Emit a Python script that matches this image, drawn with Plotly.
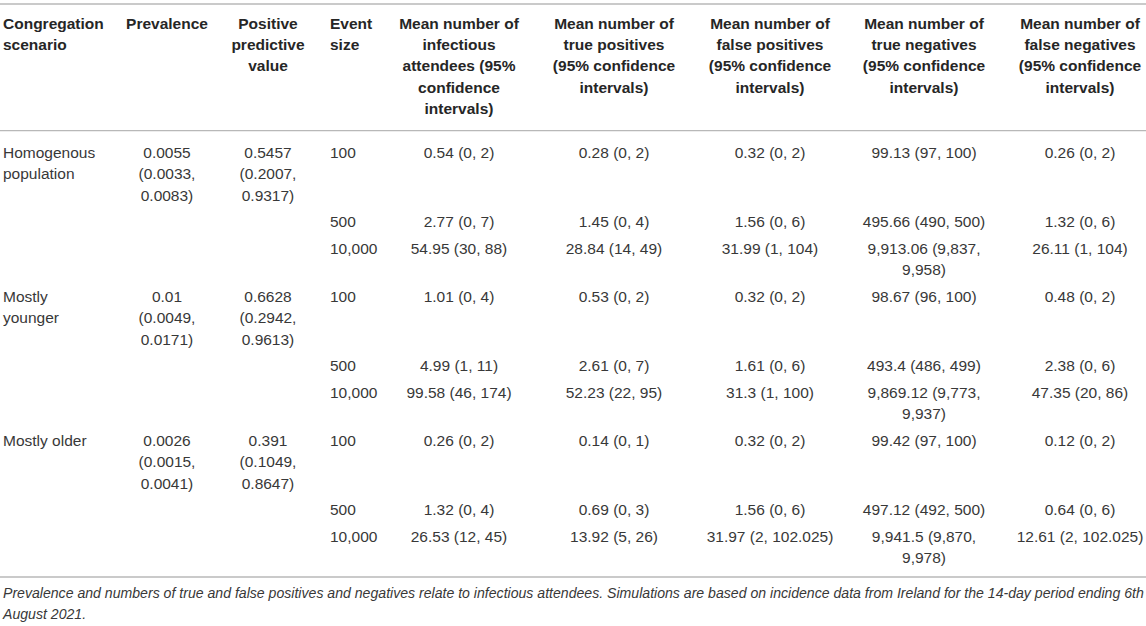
"""Table of simulated test outcomes per congregation scenario, drawn with Plotly text traces."""

import plotly.graph_objects as go

# --- table content ---------------------------------------------------------

header_lines = [
    ["Congregation", "scenario"],
    ["Prevalence"],
    ["Positive", "predictive", "value"],
    ["Event", "size"],
    ["Mean number of", "infectious", "attendees (95%", "confidence", "intervals)"],
    ["Mean number of", "true positives", "(95% confidence", "intervals)"],
    ["Mean number of", "false positives", "(95% confidence", "intervals)"],
    ["Mean number of", "true negatives", "(95% confidence", "intervals)"],
    ["Mean number of", "false negatives", "(95% confidence", "intervals)"],
]

scenarios = ["Homogenous\npopulation", "Mostly\nyounger", "Mostly older"]
prevalence = [
    "0.0055\n(0.0033,\n0.0083)",
    "0.01\n(0.0049,\n0.0171)",
    "0.0026\n(0.0015,\n0.0041)",
]
ppv = [
    "0.5457\n(0.2007,\n0.9317)",
    "0.6628\n(0.2942,\n0.9613)",
    "0.391\n(0.1049,\n0.8647)",
]
event_sizes = ["100", "500", "10,000"]

infectious = [
    "0.54 (0, 2)", "2.77 (0, 7)", "54.95 (30, 88)",
    "1.01 (0, 4)", "4.99 (1, 11)", "99.58 (46, 174)",
    "0.26 (0, 2)", "1.32 (0, 4)", "26.53 (12, 45)",
]
true_pos = [
    "0.28 (0, 2)", "1.45 (0, 4)", "28.84 (14, 49)",
    "0.53 (0, 2)", "2.61 (0, 7)", "52.23 (22, 95)",
    "0.14 (0, 1)", "0.69 (0, 3)", "13.92 (5, 26)",
]
false_pos = [
    "0.32 (0, 2)", "1.56 (0, 6)", "31.99 (1, 104)",
    "0.32 (0, 2)", "1.61 (0, 6)", "31.3 (1, 100)",
    "0.32 (0, 2)", "1.56 (0, 6)", "31.97 (2, 102.025)",
]
true_neg = [
    "99.13 (97, 100)", "495.66 (490, 500)", "9,913.06 (9,837,\n9,958)",
    "98.67 (96, 100)", "493.4 (486, 499)", "9,869.12 (9,773,\n9,937)",
    "99.42 (97, 100)", "497.12 (492, 500)", "9,941.5 (9,870,\n9,978)",
]
false_neg = [
    "0.26 (0, 2)", "1.32 (0, 6)", "26.11 (1, 104)",
    "0.48 (0, 2)", "2.38 (0, 6)", "47.35 (20, 86)",
    "0.12 (0, 2)", "0.64 (0, 6)", "12.61 (2, 102.025)",
]

caption_lines = [
    "Prevalence and numbers of true and false positives and negatives relate to "
    "infectious attendees. Simulations are based on incidence data from Ireland "
    "for the 14-day period ending 6th",
    "August 2021.",
]

# --- layout constants ------------------------------------------------------

FONT = "Liberation Sans, Arial, Helvetica, sans-serif"
FONT_SIZE = 15.5
CAPTION_SIZE = 14.1
TEXT_COLOR = "#383838"
RULE_COLOR = "#b8b8b8"

COL_X = [3, 167, 268, 330, 459, 614, 770, 924, 1080]
COL_POS = ["middle right", "middle center", "middle center", "middle right"] + [
    "middle center"
] * 5

HEADER_TOP = 25
HEADER_LINE = 21.3
BODY_TOP = 154
BODY_LINE = 21.5
ROW_PAD = 2.5
RULES = [4, 130.7, 577]
CAPTION_TOP = 594
CAPTION_LINE = 21

WIN_W, WIN_H = 1146, 626

# --- build text points -----------------------------------------------------

hx, hy, htext, hpos = [], [], [], []
for col, lines in enumerate(header_lines):
    for k, line in enumerate(lines):
        hx.append(COL_X[col])
        hy.append(HEADER_TOP + k * HEADER_LINE)
        htext.append(f"<b>{line}</b>")
        hpos.append(COL_POS[col])

bx, by, btext, bpos = [], [], [], []
y = BODY_TOP
for i in range(len(infectious)):
    g, r = divmod(i, 3)
    cells = [
        scenarios[g] if r == 0 else "",
        prevalence[g] if r == 0 else "",
        ppv[g] if r == 0 else "",
        event_sizes[r],
        infectious[i],
        true_pos[i],
        false_pos[i],
        true_neg[i],
        false_neg[i],
    ]
    n_lines = 1
    for col, cell in enumerate(cells):
        if not cell:
            continue
        parts = cell.split("\n")
        n_lines = max(n_lines, len(parts))
        for k, part in enumerate(parts):
            bx.append(COL_X[col])
            by.append(y + k * BODY_LINE)
            btext.append(part)
            bpos.append(COL_POS[col])
    y += n_lines * BODY_LINE + 2 * ROW_PAD

cx = [COL_X[0]] * len(caption_lines)
cy = [CAPTION_TOP + k * CAPTION_LINE for k in range(len(caption_lines))]
ctext = [f"<i>{line}</i>" for line in caption_lines]

fig = go.Figure()

fig.add_trace(
    go.Scatter(
        x=hx, y=hy, text=htext, mode="text", textposition=hpos,
        textfont=dict(family=FONT, size=FONT_SIZE, color="#262626"),
        hoverinfo="skip", showlegend=False, cliponaxis=False,
    )
)
fig.add_trace(
    go.Scatter(
        x=bx, y=by, text=btext, mode="text", textposition=bpos,
        textfont=dict(family=FONT, size=FONT_SIZE, color=TEXT_COLOR),
        hoverinfo="skip", showlegend=False, cliponaxis=False,
    )
)
fig.add_trace(
    go.Scatter(
        x=cx, y=cy, text=ctext, mode="text", textposition="middle right",
        textfont=dict(family=FONT, size=CAPTION_SIZE, color=TEXT_COLOR),
        hoverinfo="skip", showlegend=False, cliponaxis=False,
    )
)

for ry in RULES:
    fig.add_shape(
        type="line", xref="x", yref="y", x0=0, x1=WIN_W, y0=ry, y1=ry,
        line=dict(color=RULE_COLOR, width=1.3),
    )

fig.update_layout(
    width=WIN_W,
    height=WIN_H,
    margin=dict(l=0, r=0, t=0, b=0),
    paper_bgcolor="white",
    plot_bgcolor="white",
    xaxis=dict(range=[0, WIN_W], visible=False, fixedrange=True),
    yaxis=dict(range=[WIN_H, 0], visible=False, fixedrange=True),
)

# drop the browser's default 8px body margin so the table fills the window
fig.write_html(
    "out.html",
    config={"displayModeBar": False},
    post_script="document.body.style.margin = '0'; document.body.style.overflow = 'hidden';",
)
